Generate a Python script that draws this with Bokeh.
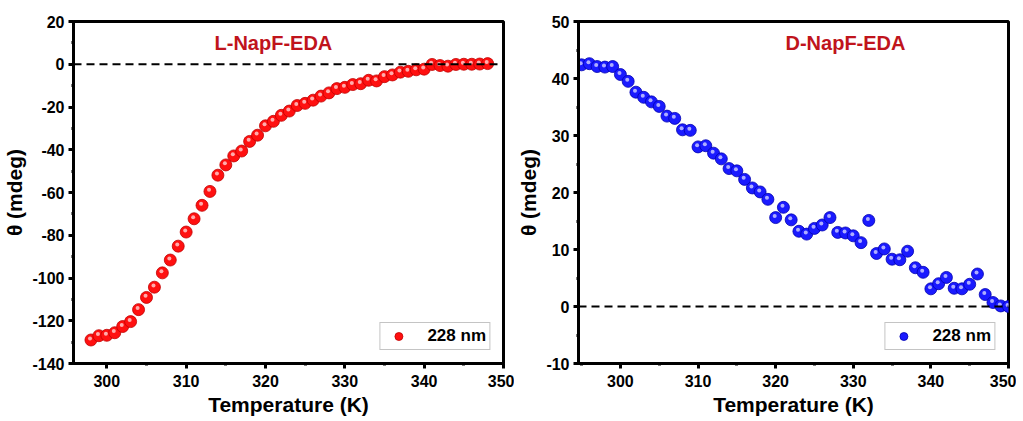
from bokeh.plotting import figure
from bokeh.layouts import row
from bokeh.models import Range1d, Span, Label, Legend, LegendItem, ColumnDataSource, SingleIntervalTicker
from bokeh.transform import dodge
from bokeh.embed import file_html
from bokeh.resources import INLINE

# ---- data ----
temp_L = list(range(298, 349))
theta_L = [-129.0, -127.0, -126.8, -125.6, -122.7, -120.4, -114.8, -109.1, -104.3, -97.6,
           -91.6, -85.1, -78.5, -72.3, -66.0, -59.5, -51.9, -47.1, -42.9, -40.6,
           -36.1, -33.2, -28.8, -26.7, -23.9, -21.9, -19.3, -18.3, -16.8, -14.9,
           -13.4, -11.4, -10.8, -9.5, -9.1, -7.5, -7.8, -5.8, -5.0, -3.7,
           -3.3, -2.6, -2.3, -0.1, -0.6, -0.9, -0.1, 0.0, 0.0, 0.1, 0.3]

temp_D = list(range(295, 351))
theta_D = [42.4, 42.6, 42.1, 42.0, 42.1, 40.7, 39.5, 37.6, 36.7, 35.9,
           35.1, 33.4, 33.0, 31.0, 30.9, 28.0, 28.2, 26.9, 25.9, 24.2,
           23.8, 22.3, 20.8, 20.1, 18.8, 15.6, 17.4, 15.2, 13.2, 12.7,
           13.7, 14.3, 15.6, 13.0, 12.9, 12.4, 11.2, 15.1, 9.3, 10.1,
           8.3, 8.2, 9.7, 6.8, 6.0, 3.1, 4.0, 5.1, 3.2, 3.1,
           3.9, 5.7, 2.1, 0.7, 0.1, 0.0]

ticks_L = [-140, -120, -100, -80, -60, -40, -20, 0, 20]
ticks_D = [-10, 0, 10, 20, 30, 40, 50]

titles = ["L-NapF-EDA", "D-NapF-EDA"]
legend_label = "228 nm"
x_label = "Temperature (K)"
y_label = "\u03b8 (mdeg)"

FONT = "Liberation Sans"
TITLE_COLOR = "#C0141C"


def make_panel(x, y, xr, yr, yint, yticks, color, edge, hi, title, title_xy, hi_dy,
               bl, br, width):
    p = figure(width=width, frame_width=430, frame_height=342,
               x_range=Range1d(*xr), y_range=Range1d(*yr),
               output_backend="svg", toolbar_location=None,
               min_border_left=bl, min_border_right=br,
               min_border_top=21, min_border_bottom=10)
    p.xgrid.visible = False
    p.ygrid.visible = False
    p.outline_line_color = "black"
    p.outline_line_width = 3
    p.outline_line_alpha = 1.0
    p.background_fill_color = "white"
    p.border_fill_color = "white"

    p.xaxis.ticker = SingleIntervalTicker(interval=10, num_minor_ticks=2)
    p.yaxis.ticker = SingleIntervalTicker(interval=yint, num_minor_ticks=2)
    p.yaxis.major_label_overrides = {t: str(t) for t in yticks}
    for ax in (p.xaxis[0], p.yaxis[0]):
        ax.axis_line_width = 3
        ax.axis_line_color = "black"
        ax.major_tick_line_width = 3
        ax.major_tick_out = 5
        ax.major_tick_in = 0
        ax.minor_tick_line_width = 3
        ax.minor_tick_out = 2
        ax.minor_tick_in = 0
        ax.major_label_text_font = FONT
        ax.major_label_text_font_style = "bold"
        ax.major_label_text_font_size = "16px"
        ax.major_label_text_color = "black"
        ax.axis_label_text_font = FONT
        ax.axis_label_text_font_style = "bold"
        ax.axis_label_text_font_size = "21px"
        ax.axis_label_text_color = "black"
        ax.major_label_standoff = 4
        ax.axis_label_standoff = 3
    p.xaxis.major_label_standoff = 6
    p.xaxis.axis_label = x_label
    p.yaxis.axis_label = y_label

    p.add_layout(Span(location=0, dimension="width", line_color="black",
                      line_width=2, line_dash="8 5"))

    src = ColumnDataSource(dict(x=x, y=y))
    r = p.scatter("x", "y", source=src, size=12, fill_color=color,
                  line_color=edge, line_width=0.8)
    p.scatter(dodge("x", -0.12, range=p.x_range),
              dodge("y", hi_dy, range=p.y_range), source=src,
              size=4, fill_color=hi, line_color=None, fill_alpha=0.85)

    leg = Legend(items=[LegendItem(label=legend_label, renderers=[r])],
                 location="bottom_right")
    leg.label_text_font = FONT
    leg.label_text_font_style = "bold"
    leg.label_text_font_size = "17px"
    leg.label_text_color = "black"
    leg.border_line_color = "#8a8a8a"
    leg.border_line_width = 1.5
    leg.margin = 13
    leg.padding = 3
    leg.glyph_width = 30
    leg.label_standoff = 14
    leg.spacing = 0
    p.add_layout(leg)

    p.add_layout(Label(x=title_xy[0], y=title_xy[1], text=title,
                       text_align="center", text_baseline="middle",
                       text_font=FONT, text_font_style="bold",
                       text_font_size="20px", text_color=TITLE_COLOR))
    return p


p1 = make_panel(temp_L, theta_L, (295.8, 350), (-140, 20), 20, ticks_L,
                "#ff1010", "#c00000", "#ffc8c8", titles[0], (321.0, 10.0), 0.75,
                64, 11, 505)
p2 = make_panel(temp_D, theta_D, (294.6, 350), (-10, 50), 10, ticks_D,
                "#1a1aff", "#0000b0", "#c8c8ff", titles[1], (329.0, 46.3), 0.27,
                64, 8, 502)

layout = row(p1, p2)
open("out.html", "w").write(file_html(layout, INLINE))
